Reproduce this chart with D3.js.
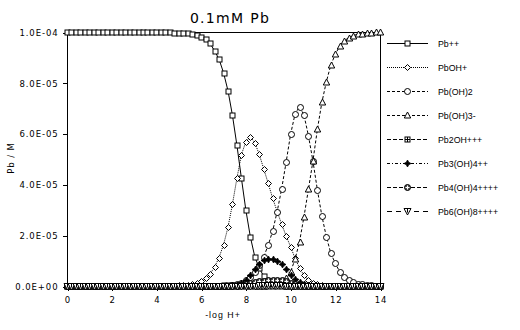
<!DOCTYPE html>
<html>
<head>
<meta charset="utf-8">
<script src="https://cdn.jsdelivr.net/npm/d3@7"></script>
<style>
  html, body { margin: 0; padding: 0; background: #fff; }
  svg { display: block; }
  .tick-label { font-family: "DejaVu Sans", sans-serif; font-size: 8.5px; letter-spacing: 0.9px; fill: #000; }
  .legend-label { font-family: "Liberation Sans", Arial, sans-serif; font-size: 8.8px; fill: #000; }
</style>
</head>
<body>
<svg id="chart" width="520" height="330"></svg>
<script>
// Lead speciation versus -log H+, total Pb 0.1 mM.
// Concentrations are given in units of 1e-5 M.
const UNIT = 1e-5;

const pH = [
  0.0, 0.2, 0.4, 0.6, 0.8, 1.0, 1.2, 1.4, 1.6, 1.8,
  2.0, 2.2, 2.4, 2.6, 2.8, 3.0, 3.2, 3.4, 3.6, 3.8,
  4.0, 4.2, 4.4, 4.6, 4.8, 5.0, 5.2, 5.4, 5.6, 5.8,
  6.0, 6.2, 6.4, 6.6, 6.8, 7.0, 7.2, 7.4, 7.6, 7.8,
  8.0, 8.2, 8.4, 8.6, 8.8, 9.0, 9.2, 9.4, 9.6, 9.8,
  10.0, 10.2, 10.4, 10.6, 10.8, 11.0, 11.2, 11.4, 11.6, 11.8,
  12.0, 12.2, 12.4, 12.6, 12.8, 13.0, 13.2, 13.4, 13.6, 13.8,
  14.0
];

const pbFree = [
  10, 10, 10, 10, 10, 10, 10, 10, 10, 10,
  10, 10, 10, 10, 10, 10, 10, 10, 10, 10,
  10, 10, 9.99, 9.99, 9.98, 9.98, 9.97, 9.95, 9.92, 9.88,
  9.81, 9.71, 9.55, 9.26, 8.93, 8.40, 7.69, 6.72, 5.54, 4.25,
  2.99, 1.94, 1.15, 0.70, 0.39, 0.20, 0.11, 0.06, 0.03, 0.015,
  0.01, 0, 0, 0, 0, 0, 0, 0, 0, 0,
  0, 0, 0, 0, 0, 0, 0, 0, 0, 0,
  0
];

const pbOH = [
  0, 0, 0, 0, 0, 0, 0, 0, 0, 0,
  0, 0, 0, 0, 0, 0, 0, 0, 0, 0,
  0.002, 0.003, 0.005, 0.008, 0.013, 0.02, 0.03, 0.05, 0.08, 0.12,
  0.20, 0.31, 0.48, 0.74, 1.12, 1.62, 2.31, 3.22, 4.24, 5.17,
  5.68, 5.88, 5.64, 5.18, 4.61, 4.04, 3.45, 2.93, 2.44, 1.97,
  1.55, 1.09, 0.71, 0.42, 0.24, 0.12, 0.06, 0.03, 0.012, 0.005,
  0.002, 0.001, 0, 0, 0, 0, 0, 0, 0, 0,
  0
];

const pbOH2 = [
  0, 0, 0, 0, 0, 0, 0, 0, 0, 0,
  0, 0, 0, 0, 0, 0, 0, 0, 0, 0,
  0, 0, 0, 0, 0, 0, 0, 0, 0, 0,
  0, 0, 0.001, 0.002, 0.004, 0.007, 0.015, 0.03, 0.07, 0.13,
  0.23, 0.37, 0.56, 0.82, 1.15, 1.61, 2.17, 2.93, 3.82, 4.87,
  5.97, 6.77, 7.06, 6.73, 5.91, 4.92, 3.78, 2.76, 1.94, 1.29,
  0.89, 0.56, 0.36, 0.22, 0.14, 0.09, 0.06, 0.04, 0.02, 0.015,
  0.01
];

const pbOH3 = [
  0, 0, 0, 0, 0, 0, 0, 0, 0, 0,
  0, 0, 0, 0, 0, 0, 0, 0, 0, 0,
  0, 0, 0, 0, 0, 0, 0, 0, 0, 0,
  0, 0, 0, 0, 0, 0, 0, 0, 0, 0,
  0, 0, 0, 0, 0.01, 0.02, 0.04, 0.07, 0.15, 0.30,
  0.56, 1.05, 1.74, 2.73, 3.81, 4.92, 6.17, 7.23, 8.04, 8.70,
  9.12, 9.45, 9.65, 9.78, 9.86, 9.91, 9.94, 9.96, 9.98, 9.99,
  9.99
];

const pb2OH = [
  0, 0, 0, 0, 0, 0, 0, 0, 0, 0,
  0, 0, 0, 0, 0, 0, 0, 0, 0, 0,
  0, 0, 0, 0, 0, 0, 0, 0, 0, 0,
  0, 0, 0, 0.005, 0.01, 0.02, 0.03, 0.04, 0.05, 0.05,
  0.04, 0.03, 0.02, 0.01, 0.005, 0, 0, 0, 0, 0,
  0, 0, 0, 0, 0, 0, 0, 0, 0, 0,
  0, 0, 0, 0, 0, 0, 0, 0, 0, 0,
  0
];

const pb3OH4 = [
  0, 0, 0, 0, 0, 0, 0, 0, 0, 0,
  0, 0, 0, 0, 0, 0, 0, 0, 0, 0,
  0, 0, 0, 0, 0, 0, 0, 0, 0, 0,
  0, 0, 0, 0, 0, 0, 0, 0.02, 0.05, 0.12,
  0.25, 0.45, 0.68, 0.88, 1.02, 1.08, 1.08, 1.00, 0.88, 0.68,
  0.45, 0.28, 0.15, 0.07, 0.03, 0.01, 0, 0, 0, 0,
  0, 0, 0, 0, 0, 0, 0, 0, 0, 0,
  0
];

const pb4OH4 = [
  0, 0, 0, 0, 0, 0, 0, 0, 0, 0,
  0, 0, 0, 0, 0, 0, 0, 0, 0, 0,
  0, 0, 0, 0, 0, 0, 0, 0, 0, 0,
  0, 0, 0, 0, 0, 0, 0, 0.005, 0.01, 0.03,
  0.06, 0.10, 0.14, 0.18, 0.21, 0.23, 0.24, 0.24, 0.22, 0.18,
  0.13, 0.08, 0.04, 0.02, 0.01, 0, 0, 0, 0, 0,
  0, 0, 0, 0, 0, 0, 0, 0, 0, 0,
  0
];

const pb6OH8 = [
  0, 0, 0, 0, 0, 0, 0, 0, 0, 0,
  0, 0, 0, 0, 0, 0, 0, 0, 0, 0,
  0, 0, 0, 0, 0, 0, 0, 0, 0, 0,
  0, 0, 0, 0, 0, 0, 0, 0, 0, 0,
  0, 0.005, 0.01, 0.02, 0.03, 0.04, 0.04, 0.035, 0.025, 0.015,
  0.008, 0.003, 0, 0, 0, 0, 0, 0, 0, 0,
  0, 0, 0, 0, 0, 0, 0, 0, 0, 0,
  0
];

const speciesNames = ["Pb++", "PbOH+", "Pb(OH)2", "Pb(OH)3-", "Pb2OH+++", "Pb3(OH)4++", "Pb4(OH)4++++", "Pb6(OH)8++++"];
const speciesValues = [pbFree, pbOH, pbOH2, pbOH3, pb2OH, pb3OH4, pb4OH4, pb6OH8];
const xTicks = [0, 2, 4, 6, 8, 10, 12, 14];
const yTicks = [0, 2e-5, 4e-5, 6e-5, 8e-5, 1e-4];
const yTickLabels = ["0.0E+00", "2.0E-05", "4.0E-05", "6.0E-05", "8.0E-05", "1.0E-04"];

// Line dash and marker style for each species, in legend order
const dashes = [null, "1,1", "3,2", "3,2", "4,2", "3,2,1,2", "4,2", "5,4"];
const markers = ["square", "diamond", "circle", "triangle", "squarePlus", "star", "circleCross", "triDown"];

const svg = d3.select("#chart");
const plot = { left: 67, right: 380, top: 32, bottom: 286 };

const x = d3.scaleLinear().domain([0, 14]).range([plot.left, plot.right]);
const y = d3.scaleLinear().domain([0, 1e-4]).range([plot.bottom, plot.top]);

// Title
svg.append("text")
  .attr("x", 230).attr("y", 23)
  .attr("text-anchor", "middle")
  .style("font-family", "DejaVu Sans, sans-serif")
  .style("font-size", "14px")
  .style("letter-spacing", "1.3px")
  .text("0.1mM Pb");

// Frame
svg.append("rect")
  .attr("x", plot.left + 0.5).attr("y", plot.top + 0.5)
  .attr("width", plot.right - plot.left).attr("height", plot.bottom - plot.top)
  .attr("fill", "none").attr("stroke", "#000").attr("stroke-width", 1)
  .attr("shape-rendering", "crispEdges");

// Axes
const xAxis = d3.axisBottom(x).tickValues(xTicks).tickSize(4).tickPadding(6).tickFormat(d3.format("d"));
const yAxis = d3.axisLeft(y).tickValues(yTicks).tickSize(5).tickPadding(4)
  .tickFormat((d, i) => yTickLabels[i]);

const gx = svg.append("g").attr("transform", `translate(0.5,${plot.bottom + 0.5})`).call(xAxis);
const gy = svg.append("g").attr("transform", `translate(${plot.left + 0.5},0.5)`).call(yAxis);
[gx, gy].forEach(g => {
  g.selectAll(".tick line").attr("stroke", "#000").attr("shape-rendering", "crispEdges");
  g.selectAll(".tick text").attr("class", "tick-label").attr("fill", "#000");
  g.select(".domain").remove();
});

// Axis titles
svg.append("text")
  .attr("x", 223).attr("y", 318)
  .attr("text-anchor", "middle")
  .attr("class", "legend-label")
  .style("letter-spacing", "1px")
  .text("-log H+");

svg.append("text")
  .attr("transform", "translate(14,158) rotate(-90)")
  .attr("text-anchor", "middle")
  .attr("class", "tick-label")
  .text("Pb / M");

// Marker shapes
function drawMarker(g, type) {
  const stroke = "#000";
  switch (type) {
    case "square":
      g.append("rect").attr("x", -2.5).attr("y", -2.5).attr("width", 5).attr("height", 5)
        .attr("fill", "#fff").attr("stroke", stroke);
      break;
    case "diamond":
      g.append("path").attr("d", "M0,-3L3,0L0,3L-3,0Z").attr("fill", "#fff").attr("stroke", stroke);
      break;
    case "circle":
      g.append("circle").attr("r", 3).attr("fill", "#fff").attr("stroke", stroke);
      break;
    case "triangle":
      g.append("path").attr("d", "M0,-3.5L3.2,2.5L-3.2,2.5Z").attr("fill", "#fff").attr("stroke", stroke);
      break;
    case "squarePlus":
      g.append("rect").attr("x", -2.5).attr("y", -2.5).attr("width", 5).attr("height", 5)
        .attr("fill", "#fff").attr("stroke", stroke);
      g.append("path").attr("d", "M-2.5,0H2.5M0,-2.5V2.5").attr("stroke", stroke);
      break;
    case "star":
      g.append("path").attr("d", "M0,-3.5L1.2,-1.2L3.5,0L1.2,1.2L0,3.5L-1.2,1.2L-3.5,0L-1.2,-1.2Z")
        .attr("fill", "#000").attr("stroke", stroke).attr("stroke-width", 0.8);
      break;
    case "circleCross":
      g.append("circle").attr("r", 3).attr("fill", "#555").attr("stroke", stroke);
      g.append("path").attr("d", "M-2,0H2M0,-2V2").attr("stroke", "#fff");
      break;
    case "triDown":
      g.append("path").attr("d", "M-3.5,-3L3.5,-3L0,3.5Z").attr("fill", "#fff").attr("stroke", stroke);
      g.append("path").attr("d", "M0,-3V1").attr("stroke", stroke);
      break;
  }
}

const line = d3.line()
  .x(d => x(d[0]))
  .y(d => y(d[1] * UNIT));

const seriesLayer = svg.append("g");
speciesValues.forEach((vals, si) => {
  const pts = pH.map((p, i) => [p, vals[i]]);
  const g = seriesLayer.append("g");
  g.append("path")
    .datum(pts)
    .attr("d", line)
    .attr("fill", "none")
    .attr("stroke", "#000")
    .attr("stroke-width", 1)
    .attr("stroke-dasharray", dashes[si]);
  g.selectAll("g.mk")
    .data(pts)
    .join("g")
    .attr("class", "mk")
    .attr("transform", d => `translate(${Math.round(x(d[0])) + 0.5},${Math.round(y(d[1] * UNIT)) + 0.5})`)
    .each(function () { drawMarker(d3.select(this), markers[si]); });
});

// Legend
const legendY = d3.scalePoint().domain(speciesNames).range([43, 211]);
const legend = svg.append("g");
speciesNames.forEach((name, si) => {
  const ly = Math.round(legendY(name)) + 0.5;
  const row = legend.append("g");
  row.append("line")
    .attr("x1", 387).attr("x2", 428).attr("y1", ly).attr("y2", ly)
    .attr("stroke", "#000").attr("stroke-dasharray", dashes[si]);
  const m = row.append("g").attr("transform", `translate(407.5,${ly})`);
  drawMarker(m, markers[si]);
  row.append("text")
    .attr("x", 438).attr("y", ly + 3)
    .attr("class", "legend-label")
    .text(name);
});
</script>
</body>
</html>
